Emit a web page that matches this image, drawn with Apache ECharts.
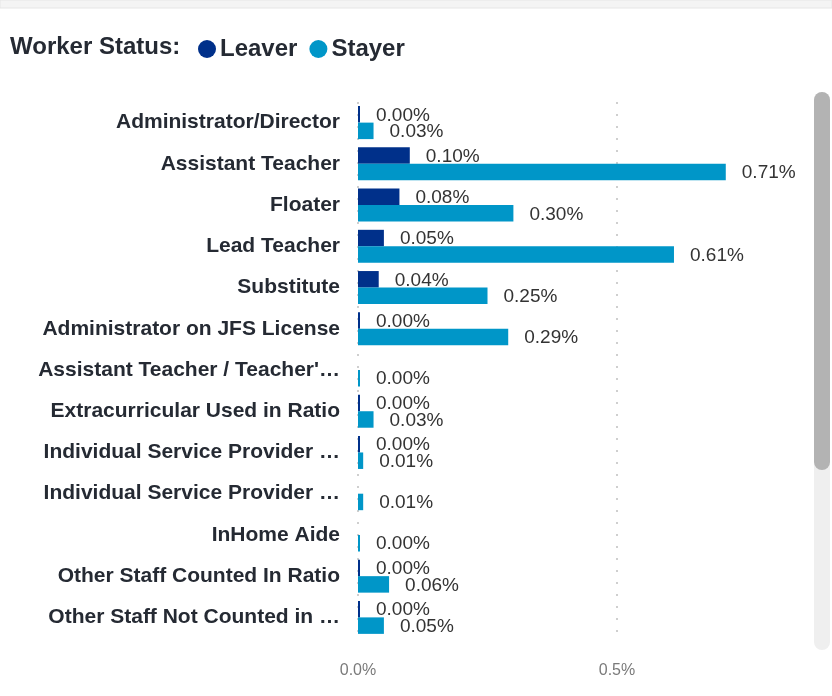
<!DOCTYPE html>
<html>
<head>
<meta charset="utf-8">
<script src="https://cdn.jsdelivr.net/npm/echarts@6/dist/echarts.min.js"></script>
<style>
  html, body { margin: 0; padding: 0; background: #fff; }
  #main { width: 832px; height: 696px; }
</style>
</head>
<body>
<div id="main"></div>
<script>
const categories = [
    'Administrator/Director',
    'Assistant Teacher',
    'Floater',
    'Lead Teacher',
    'Substitute',
    'Administrator on JFS License',
    "Assistant Teacher / Teacher's Aide",
    'Extracurricular Used in Ratio',
    'Individual Service Provider (Center)',
    'Individual Service Provider (Home)',
    'InHome Aide',
    'Other Staff Counted In Ratio',
    'Other Staff Not Counted in Ratio'
];
// percent values
const leaver = [0.00, 0.10, 0.08, 0.05, 0.04, 0.00, null, 0.00, 0.00, null, null, 0.00, 0.00];
const stayer = [0.03, 0.71, 0.30, 0.61, 0.25, 0.29, 0.00, 0.03, 0.01, 0.01, 0.00, 0.06, 0.05];
const xTicks = [0, 0.5];

const font = '"Liberation Sans", Arial, sans-serif';
const dark = '#252a33';

let myChart = echarts.init(document.getElementById('main'));

function barLabel () {
    return {
        show: true,
        position: 'right',
        distance: 16,
        offset: [0, 1],
        color: '#333',
        fontSize: 19,
        fontFamily: font,
        formatter: (p) => p.value.toFixed(2) + '%'
    };
}

myChart.setOption({
    animation: false,
    title: {
        text: 'Worker Status:',
        left: 5,
        top: 30,
        textStyle: { fontSize: 24, fontWeight: 'bold', color: dark, fontFamily: font }
    },
    legend: {
        left: 193,
        top: 32,
        icon: 'circle',
        itemWidth: 18,
        itemHeight: 18,
        itemGap: 12,
        textStyle: { fontSize: 24, fontWeight: 'bold', color: dark, fontFamily: font, padding: [0, 0, 0, -1] },
        data: ['Leaver', 'Stayer']
    },
    grid: {
        left: 358,
        top: 102,
        height: 536,
        width: 414.4,
        containLabel: false
    },
    xAxis: {
        type: 'value',
        min: 0,
        max: 0.8,
        interval: 0.5,
        axisLine: { show: false },
        axisTick: { show: false },
        axisLabel: {
            margin: 25,
            fontSize: 16,
            color: '#7a7a7a',
            fontFamily: font,
            formatter: (v) => xTicks.indexOf(v) >= 0 ? v.toFixed(1) + '%' : ''
        },
        splitLine: { show: false }
    },
    yAxis: {
        type: 'category',
        inverse: true,
        data: categories,
        axisLine: { show: false },
        axisTick: { show: false },
        axisLabel: {
            margin: 18,
            fontSize: 21,
            fontWeight: 'bold',
            color: dark,
            fontFamily: font,
            padding: [4, 0, 0, 0],
            width: 308,
            overflow: 'truncate',
            ellipsis: '…'
        }
    },
    series: [{
        name: 'Leaver',
        type: 'bar',
        data: leaver,
        barGap: 0,
        barCategoryGap: '20%',
        barMinHeight: 2,
        itemStyle: { color: '#00308a' },
        label: barLabel(),
        z: 3,
        markLine: {
            silent: true,
            symbol: 'none',
            label: { show: false },
            lineStyle: { color: '#cfcfcf', width: 2, type: [2, 10] },
            z: 1,
            data: xTicks.map((v) => ({ xAxis: v }))
        }
    }, {
        name: 'Stayer',
        type: 'bar',
        data: stayer,
        barGap: 0,
        barCategoryGap: '20%',
        barMinHeight: 2,
        itemStyle: { color: '#0096c8' },
        label: barLabel(),
        z: 3
    }],
    graphic: [{
        type: 'rect',
        shape: { x: 0, y: 0, width: 832, height: 8 },
        style: { fill: '#f4f4f4', stroke: '#e6e6e6', lineWidth: 1 },
        silent: true
    }, {
        type: 'rect',
        shape: { x: 814, y: 92, width: 16, height: 558, r: 8 },
        style: { fill: '#efefef' },
        silent: true
    }, {
        type: 'rect',
        shape: { x: 814, y: 92, width: 16, height: 378, r: 8 },
        style: { fill: '#b3b3b3' },
        silent: true
    }]
});
</script>
</body>
</html>
